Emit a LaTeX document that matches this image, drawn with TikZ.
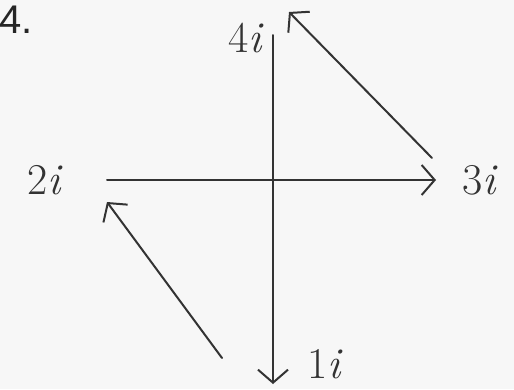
\documentclass[tikz,border=0pt]{standalone}
\usepackage{fontspec}
\newfontfamily\printfont{Liberation Sans}
\usetikzlibrary{arrows.meta}
\begin{document}
\begin{tikzpicture}[x=1pt,y=-1pt,
  pen/.style={line width=2pt, draw=black!80, line cap=round,
    -{Straight Barb[length=13pt,width=30pt,line width=2pt]}},
  lbl/.style={font=\fontsize{44}{44}\selectfont, text=black!80, inner sep=0pt},
  num/.style={font=\printfont\fontsize{40}{40}\selectfont, text=black!85, inner sep=0pt}]
\fill[black!3] (0,0) rectangle (514,389);
\useasboundingbox (0,0) rectangle (514,389);
\node[num, anchor=west] (n4) at (-1,20) {4.};
\node[lbl] (l4) at (246,38) {4\textit{i}};
\node[lbl] (l2) at (45,180) {2\textit{i}};
\node[lbl] (l3) at (480,180) {3\textit{i}};
\node[lbl] (l1) at (325,364) {1\textit{i}};
\coordinate (vtop) at (273,35);
\coordinate (vbot) at (273,384);
\coordinate (hl) at (107,180);
\coordinate (hr) at (436,180);
\coordinate (dtop) at (289,12);
\coordinate (dbot) at (432,158);
\coordinate (ltop) at (107,202);
\coordinate (lbot) at (222,358);
\draw[pen] (vtop) -- (vbot);
\draw[pen] (hl) -- (hr);
\draw[pen] (dbot) -- (dtop);
\draw[pen] (lbot) -- (ltop);
\end{tikzpicture}
\end{document}
